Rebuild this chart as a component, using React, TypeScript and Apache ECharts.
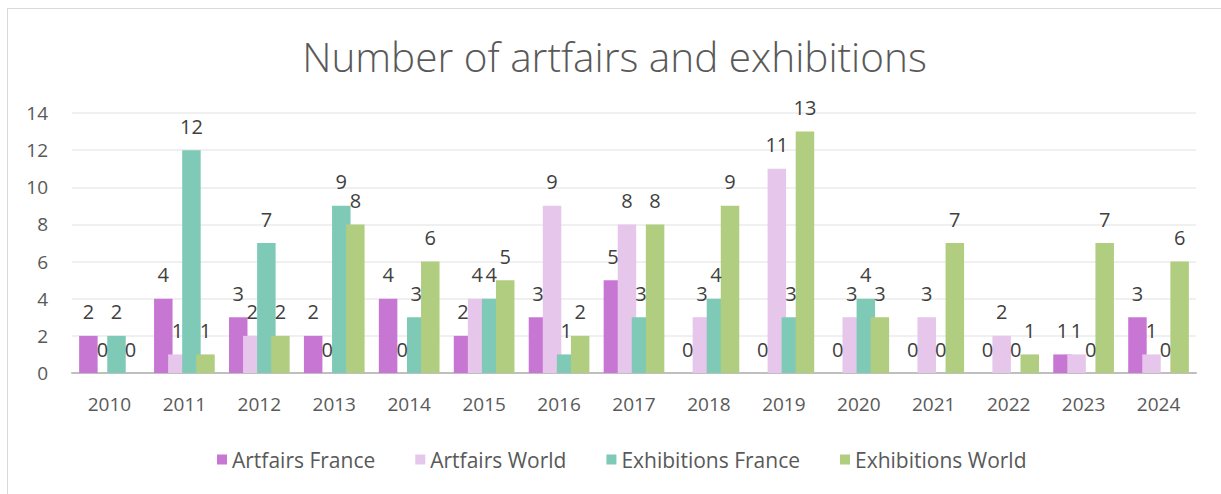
import React, { useEffect, useRef } from "react";
import * as echarts from "echarts";

const years = ["2010", "2011", "2012", "2013", "2014", "2015", "2016", "2017", "2018", "2019", "2020", "2021", "2022", "2023", "2024"];
const artfairsFrance = [2, 4, 3, 2, 4, 2, 3, 5, 0, 0, 0, 0, 0, 1, 3];
const artfairsWorld = [0, 1, 2, 0, 0, 4, 9, 8, 3, 11, 3, 3, 2, 1, 1];
const exhibitionsFrance = [2, 12, 7, 9, 3, 4, 1, 3, 4, 3, 4, 0, 0, 0, 0];
const exhibitionsWorld = [0, 1, 2, 8, 6, 5, 2, 8, 9, 13, 3, 7, 1, 7, 6];

const seriesNames = ["Artfairs France", "Artfairs World", "Exhibitions France", "Exhibitions World"];
const seriesData = [artfairsFrance, artfairsWorld, exhibitionsFrance, exhibitionsWorld];
const colors = ["#c777d3", "#e6c6eb", "#7ecab6", "#b1cd80"];

const FONT = "'Open Sans', sans-serif";

export default function App() {
  const ref = useRef<HTMLDivElement>(null);
  useEffect(() => {
    if (!ref.current) return;
    const chart = echarts.init(ref.current, null, { renderer: "svg" });
    chart.setOption({
      animation: false,
      backgroundColor: "#ffffff",
      color: colors,
      title: {
        text: "Number of artfairs and exhibitions",
        left: "center",
        top: 22,
        textStyle: { fontFamily: FONT, fontWeight: 300, fontSize: 40.5, color: "#595959" },
      },
      legend: {
        top: 435,
        left: 204,
        itemWidth: 10,
        itemHeight: 10,
        itemGap: 40,
        icon: "rect",
        textStyle: { fontFamily: FONT, fontSize: 21, color: "#595959" },
        data: seriesNames,
      },
      grid: { left: 64, right: 25, top: 104, bottom: 121 },
      xAxis: {
        type: "category",
        data: years,
        axisLine: { lineStyle: { color: "#bfbfbf", width: 2 } },
        axisTick: { show: false },
        axisLabel: { fontFamily: FONT, fontSize: 19, color: "#595959", margin: 21 },
      },
      yAxis: {
        type: "value",
        min: 0,
        max: 14,
        interval: 2,
        axisLine: { show: false },
        axisTick: { show: false },
        splitLine: { lineStyle: { color: "#ebebeb", width: 1.5 } },
        axisLabel: { fontFamily: FONT, fontSize: 19, color: "#595959", margin: 24 },
      },
      series: seriesNames.map((name, i) => ({
        name,
        type: "bar",
        data: seriesData[i],
        barWidth: 18.5,
        barGap: "-24%",
        itemStyle: { color: colors[i] },
        label: {
          show: true,
          position: "top",
          distance: 14,
          fontFamily: FONT,
          fontSize: 20,
          color: "#404040",
        },
      })),
    });
    return () => chart.dispose();
  }, []);
  return (
    <div style={{ position: "fixed", left: 0, top: 0, width: 1221, height: 494, overflow: "hidden", background: "#ffffff" }}>
      <div style={{ position: "absolute", left: 7, top: 8, width: 1400, height: 700, border: "1px solid #d9d9d9", boxSizing: "border-box" }} />
      <div ref={ref} style={{ position: "absolute", left: 8, top: 9, width: 1213, height: 485 }} />
    </div>
  );
}
